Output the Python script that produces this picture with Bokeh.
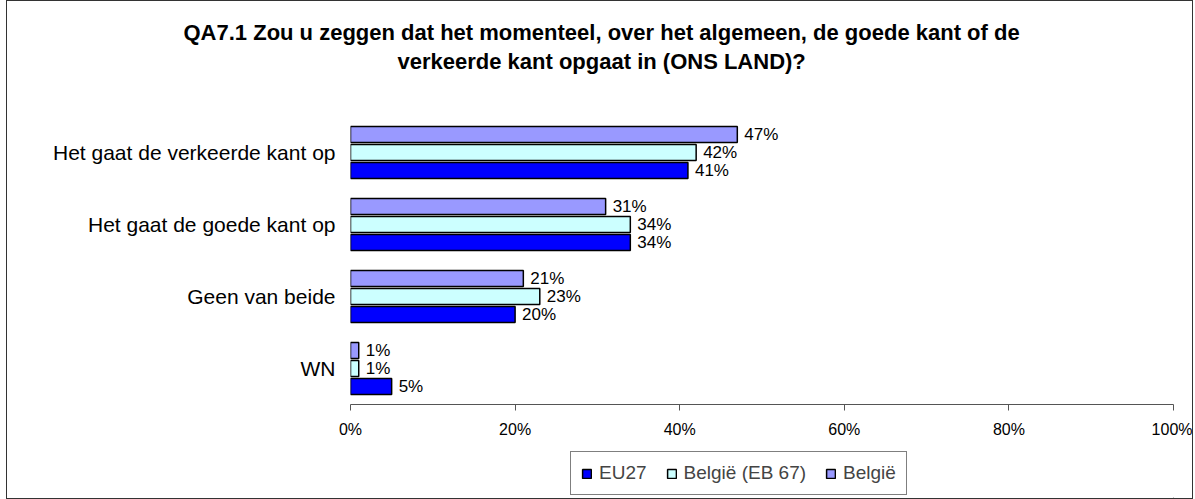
from bokeh.plotting import figure
from bokeh.layouts import column
from bokeh.models import (ColumnDataSource, FactorRange, Legend, LegendItem, Title,
                          FixedTicker)
from bokeh.transform import dodge
from bokeh.core.properties import value
from bokeh.embed import file_html
from bokeh.resources import INLINE

categories = ["Het gaat de verkeerde kant op", "Het gaat de goede kant op", "Geen van beide", "WN"]
eu27 = [41, 34, 20, 5]
belgie_eb67 = [42, 34, 23, 1]
belgie = [47, 31, 21, 1]
series_names = ["EU27", "België (EB 67)", "België"]
series_colors = ["#0000FF", "#CCFFFF", "#9999FF"]
x_ticks = [0, 20, 40, 60, 80, 100]
title_lines = ["QA7.1 Zou u zeggen dat het momenteel, over het algemeen, de goede kant of de",
               "verkeerde kant opgaat in (ONS LAND)?"]

FONT = "Liberation Sans"
TITLE_SIZE = "22px"

p = figure(width=1185, height=445, output_backend="svg", toolbar_location=None,
           y_range=FactorRange(factors=list(reversed(categories))),
           x_range=(0, 100),
           min_border_left=343, min_border_right=19, min_border_top=115, min_border_bottom=42)
p.outline_line_color = None
p.xgrid.grid_line_color = None
p.ygrid.grid_line_color = None
p.background_fill_color = "white"
p.border_fill_color = "white"

src = ColumnDataSource(dict(
    cat=categories, eu27=eu27, eb67=belgie_eb67, be=belgie,
    eu27_t=[f"{v}%" for v in eu27],
    eb67_t=[f"{v}%" for v in belgie_eb67],
    be_t=[f"{v}%" for v in belgie],
))

offsets = [-0.25, 0.0, 0.25]
cols = ["eu27", "eb67", "be"]
for col, off, color in zip(cols, offsets, series_colors):
    p.hbar(y=dodge("cat", off, range=p.y_range), right=col, left=0, height=0.22,
           source=src, fill_color=color, line_color="black", line_width=1.5)
    p.text(x=col, y=dodge("cat", off, range=p.y_range), text=col + "_t", source=src,
           x_offset=7, text_baseline="middle", text_align="left",
           text_font=value(FONT), text_font_size="17px", text_color="black")

# axes
xa = p.xaxis[0]
xa.ticker = FixedTicker(ticks=x_ticks)
xa.major_label_overrides = {t: f"{t}%" for t in x_ticks}
xa.minor_tick_line_color = None
xa.major_tick_in = 0
xa.major_tick_out = 6
xa.axis_line_color = "#555555"
xa.major_tick_line_color = "#555555"
xa.major_label_text_font = FONT
xa.major_label_text_font_size = "16px"
xa.major_label_text_color = "black"
xa.major_label_standoff = 10

ya = p.yaxis[0]
ya.axis_line_color = None
ya.major_tick_line_color = None
ya.minor_tick_line_color = None
ya.major_tick_in = 0
ya.major_tick_out = 0
ya.major_label_text_font = FONT
ya.major_label_text_font_size = "21px"
ya.major_label_text_color = "black"
ya.major_label_standoff = 15

# title block: spacer nearest the frame, then line 2, then line 1
p.add_layout(Title(text=" ", align="left", vertical_align="middle", standoff=14,
                   text_font=FONT, text_font_size=TITLE_SIZE), "above")
p.add_layout(Title(text=title_lines[1], align="left", offset=47, vertical_align="middle",
                   standoff=2, text_font=FONT, text_font_size=TITLE_SIZE,
                   text_font_style="bold", text_color="black"), "above")
p.add_layout(Title(text=title_lines[0], align="left", offset=-167, vertical_align="middle",
                   standoff=2, text_font=FONT, text_font_size=TITLE_SIZE,
                   text_font_style="bold", text_color="black"), "above")

# legend strip below the chart
leg = figure(width=1185, height=52, output_backend="svg", toolbar_location=None,
             x_range=(0, 1), y_range=(0, 1), x_axis_type=None, y_axis_type=None,
             min_border_left=0, min_border_right=0, min_border_top=0, min_border_bottom=0)
leg.outline_line_color = None
leg.xgrid.grid_line_color = None
leg.ygrid.grid_line_color = None
# off-canvas swatch source: only used to draw the legend keys
swatch = ColumnDataSource(dict(y=[-5.0], left=[3.0], right=[4.0]))
leg_renderers = [leg.hbar(y="y", right="right", left="left", height=0.5, source=swatch,
                          fill_color=c, line_color="black", line_width=1.5)
                 for c in series_colors]
legend = Legend(items=[LegendItem(label=n, renderers=[r]) for n, r in zip(series_names, leg_renderers)],
                orientation="horizontal", location=(220, 3),
                glyph_width=11, glyph_height=11, label_text_font=FONT, label_text_font_size="19px",
                label_standoff=7, spacing=19, padding=10, margin=0,
                border_line_color="black", border_line_width=1,
                label_height=20, label_text_baseline="middle")
leg.add_layout(legend, "center")

layout = column(p, leg, spacing=0)
layout.styles = {"border": "1px solid #333333", "margin-left": "6px"}

open("out.html", "w").write(file_html(layout, INLINE))
